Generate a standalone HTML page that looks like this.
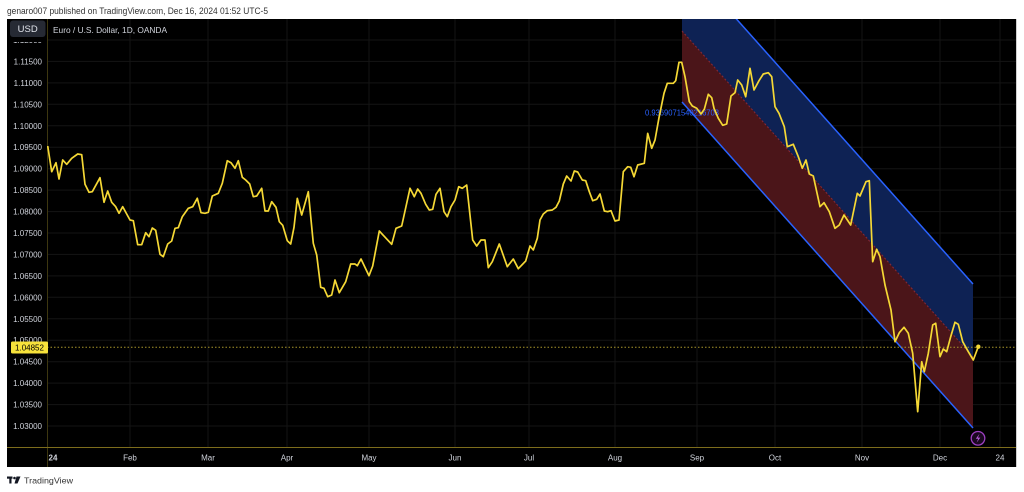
<!DOCTYPE html>
<html>
<head>
<meta charset="utf-8">
<style>
html,body{margin:0;padding:0;background:#fff;width:1024px;height:492px;overflow:hidden;}
svg{display:block;font-family:"Liberation Sans",sans-serif;}
</style>
</head>
<body>
<svg width="1024" height="492" viewBox="0 0 1024 492" xmlns="http://www.w3.org/2000/svg">
  <defs>
    <clipPath id="pane"><rect x="47" y="19" width="969" height="428"/></clipPath>
  </defs>
  <rect x="0" y="0" width="1024" height="492" fill="#ffffff"/>
  <text x="7" y="14" font-size="9" fill="#333" textLength="261" lengthAdjust="spacingAndGlyphs">genaro007 published on TradingView.com, Dec 16, 2024 01:52 UTC-5</text>

  <!-- chart frame -->
  <rect x="7" y="19" width="1009" height="448" fill="#000"/>
  <line x1="1016.5" y1="19" x2="1016.5" y2="467" stroke="#cfcfcf" stroke-width="1"/>

  <!-- grid -->
  <g stroke="#141414" stroke-width="1">
    <line x1="47" x2="1016" y1="426" y2="426"/>
    <line x1="47" x2="1016" y1="404.6" y2="404.6"/>
    <line x1="47" x2="1016" y1="383.1" y2="383.1"/>
    <line x1="47" x2="1016" y1="361.7" y2="361.7"/>
    <line x1="47" x2="1016" y1="340.2" y2="340.2"/>
    <line x1="47" x2="1016" y1="318.8" y2="318.8"/>
    <line x1="47" x2="1016" y1="297.3" y2="297.3"/>
    <line x1="47" x2="1016" y1="275.9" y2="275.9"/>
    <line x1="47" x2="1016" y1="254.4" y2="254.4"/>
    <line x1="47" x2="1016" y1="233" y2="233"/>
    <line x1="47" x2="1016" y1="211.6" y2="211.6"/>
    <line x1="47" x2="1016" y1="190.1" y2="190.1"/>
    <line x1="47" x2="1016" y1="168.7" y2="168.7"/>
    <line x1="47" x2="1016" y1="147.2" y2="147.2"/>
    <line x1="47" x2="1016" y1="125.8" y2="125.8"/>
    <line x1="47" x2="1016" y1="104.3" y2="104.3"/>
    <line x1="47" x2="1016" y1="82.9" y2="82.9"/>
    <line x1="47" x2="1016" y1="61.4" y2="61.4"/>
    <line x1="47" x2="1016" y1="40" y2="40"/>
    <line y1="19" y2="447" x1="130" x2="130"/>
    <line y1="19" y2="447" x1="208" x2="208"/>
    <line y1="19" y2="447" x1="287" x2="287"/>
    <line y1="19" y2="447" x1="369" x2="369"/>
    <line y1="19" y2="447" x1="455" x2="455"/>
    <line y1="19" y2="447" x1="529" x2="529"/>
    <line y1="19" y2="447" x1="615" x2="615"/>
    <line y1="19" y2="447" x1="697" x2="697"/>
    <line y1="19" y2="447" x1="775" x2="775"/>
    <line y1="19" y2="447" x1="862" x2="862"/>
    <line y1="19" y2="447" x1="940" x2="940"/>
    <line y1="19" y2="447" x1="1000" x2="1000"/>
  </g>

  <!-- year separator & pane bottom -->
  <line x1="47.5" y1="19" x2="47.5" y2="467" stroke="#3d3710" stroke-width="1"/>
  <line x1="7" y1="447.5" x2="1016" y2="447.5" stroke="#7d6d1c" stroke-width="1"/>

  <!-- channel -->
  <g clip-path="url(#pane)">
    <polygon points="682,-42 973,284 973,357 682,31" fill="#0e2254"/>
    <polygon points="682,31 973,357 973,428 682,102" fill="#4b1519"/>
    <line x1="682" y1="-42" x2="973" y2="284" stroke="#2962ff" stroke-width="1.5"/>
    <line x1="682" y1="102" x2="973" y2="428" stroke="#2962ff" stroke-width="1.5"/>
    <line x1="682" y1="31" x2="973" y2="357" stroke="#b0303c" stroke-width="1" stroke-dasharray="2,2" opacity="0.7"/>
    <text x="645" y="115.5" font-size="8.5" fill="#2962ff" textLength="74" lengthAdjust="spacingAndGlyphs">0.9369071540216703</text>
  </g>

  <!-- current price line -->
  <line x1="47" y1="347.3" x2="1016" y2="347.3" stroke="#a8962a" stroke-width="1" stroke-dasharray="1.5,2"/>

  <!-- price series -->
  <g clip-path="url(#pane)">
  <polyline fill="none" stroke="#f5d835" stroke-width="1.7" stroke-linejoin="round" points="47.7,146 51.7,171.7 56,162.7 59,179 62.7,160 66.7,164.3 71.7,158.3 77.7,154 81.7,154.7 85,184.3 89,192.3 92.3,191.7 100,177.7 104,202.3 107.7,191 111.7,202.3 115.7,206.7 119,213.3 122.7,206.7 126.7,214 130,220 133.3,220.7 137.7,244.7 141.7,244.7 145.7,232.7 149,236.7 152.3,228 155.7,230.3 160,254.3 163.3,256.7 167.7,244 171.7,241 175,228.3 178.3,227.7 182.3,216.7 188.3,208.3 192.7,206.7 197.3,198.3 201,212.7 205,213.3 208.3,212.3 212.3,196 218.3,193.3 222.3,183.3 227.3,160.7 231,162.7 235,168.3 238.3,160.7 242.3,177.3 245.7,180 249.7,184 253.3,196.7 256.7,196 261.7,188.3 265,211 268.3,211 271.7,201.7 276,207.3 279.3,221.7 282.7,225.3 287.3,240.7 290.7,244 294,227.3 297.3,198.3 301.7,215 308.3,191.7 313.3,243.3 316.7,255 320.7,287.3 324,288.3 327.7,296.7 331.7,295 335,280 339.3,292.7 345.7,281.7 350.7,264 355,264 357.3,265.7 361,259 369,275.7 372.7,266 379.3,231 391.7,244.3 396,228.3 401.7,226 410,188.3 414.3,196.7 417.7,189 421,193.3 425.7,204.3 429.3,210 432.7,209.3 436,194.3 440,188.3 444,211.7 447.3,216.7 451,206.7 455,200 458.7,186.7 462.3,188.3 466.7,185 472.7,240 476.7,246 481,240 485,240 488.3,267.7 492.3,261.7 499.3,244 507.3,266.7 513.3,259 518.3,268.7 525.7,261 530,246 533.3,250 537.3,238.3 540,220 543.3,214 547.3,210.7 552.3,210 556,207.3 559.3,201 563.3,184 566.7,176 571,181 574.3,171 577.7,172 582.3,180 585.7,180.7 589.3,191.7 592.7,200.7 596.7,199.3 600,194 604.3,211 607.7,211.7 611,210.7 615,221 619,220 623.3,171.7 627.7,166.7 630.7,167.3 634,176.7 637.7,165 644.3,163.3 647.7,133.3 651.7,148.3 655,140 659,117.7 664,93.3 667.3,83.3 673.3,83.3 675.7,80.7 679,62.3 681.7,62.3 685,76.7 689.3,101.7 692.3,106 696.7,108.3 701,114 704.3,109.3 708.3,94.3 711.7,97.7 714,108.3 718.3,118.3 722.7,125.3 726.7,124 731,96 735,92.7 737.7,80 741.7,85 745.7,96.7 750,68.3 754,90 759,80.7 763.3,74 768.3,72.7 771.7,76.7 775,106.7 779,113.3 784.3,126.7 787.3,146.7 793.3,144.3 798.3,156.7 802.3,168.3 806,160 809.3,174 813.3,176 820,206.7 824,202.7 829.3,211.7 835,228.3 839.3,225 844,215 850.7,225 857.3,193.3 860,196 866,181.7 869.3,180.7 872.7,261.7 876.7,249.3 880,256.7 885,285 891,310 895,341.7 899.3,332.7 904,327.3 908.3,333.3 912.7,353.3 917.7,411.7 921.7,361.7 924.3,371.7 928.3,353.3 932.7,325 935.7,323.3 940,356.7 943.3,349 946.7,351.7 950.7,336.7 955,322.3 958.3,324.3 962.7,341.7 968.3,351.7 973.3,360 978.3,346.7"/>
  <circle cx="978.3" cy="346.7" r="2.2" fill="#f5d835"/>
  </g>

  <!-- price axis labels -->
  <g font-size="8" fill="#d1d4dc" text-anchor="end">
    <text x="42" y="43">1.12000</text>
    <text x="42" y="64.4">1.11500</text>
    <text x="42" y="85.9">1.11000</text>
    <text x="42" y="107.3">1.10500</text>
    <text x="42" y="128.8">1.10000</text>
    <text x="42" y="150.2">1.09500</text>
    <text x="42" y="171.7">1.09000</text>
    <text x="42" y="193.1">1.08500</text>
    <text x="42" y="214.6">1.08000</text>
    <text x="42" y="236">1.07500</text>
    <text x="42" y="257.4">1.07000</text>
    <text x="42" y="278.9">1.06500</text>
    <text x="42" y="300.3">1.06000</text>
    <text x="42" y="321.8">1.05500</text>
    <text x="42" y="343.2">1.05000</text>
    <text x="42" y="364.7">1.04500</text>
    <text x="42" y="386.1">1.04000</text>
    <text x="42" y="407.6">1.03500</text>
    <text x="42" y="429">1.03000</text>
  </g>

  <!-- current price label -->
  <rect x="11" y="341.5" width="37" height="12" rx="1.5" fill="#f7e23b"/>
  <text x="29.5" y="350.5" font-size="8" fill="#000" text-anchor="middle">1.04852</text>

  <!-- USD box & title -->
  <rect x="7" y="19" width="40" height="23" fill="#000"/>
  <rect x="10" y="20.5" width="35.5" height="16.5" rx="3" fill="#262a34"/>
  <text x="27.7" y="32" font-size="9.5" fill="#e0e3eb" text-anchor="middle">USD</text>
  <text x="53" y="33" font-size="8.5" fill="#d1d4dc" textLength="114" lengthAdjust="spacingAndGlyphs">Euro / U.S. Dollar, 1D, OANDA</text>

  <!-- time axis labels -->
  <g font-size="8" fill="#d1d4dc" text-anchor="middle">
    <text x="53" y="460.5" font-weight="bold">24</text>
    <text x="130" y="460.5">Feb</text>
    <text x="208" y="460.5">Mar</text>
    <text x="287" y="460.5">Apr</text>
    <text x="369" y="460.5">May</text>
    <text x="455" y="460.5">Jun</text>
    <text x="529" y="460.5">Jul</text>
    <text x="615" y="460.5">Aug</text>
    <text x="697" y="460.5">Sep</text>
    <text x="775" y="460.5">Oct</text>
    <text x="862" y="460.5">Nov</text>
    <text x="940" y="460.5">Dec</text>
    <text x="1000" y="460.5">24</text>
  </g>

  <!-- lightning icon -->
  <circle cx="978" cy="438.3" r="6.8" fill="#1a0820" stroke="#9c3fc0" stroke-width="1.3"/>
  <path d="M979.5,433.8 L975.8,438.8 L978.2,438.8 L976.6,442.8 L980.3,437.6 L977.9,437.6 Z" fill="#b45ad8"/>

  <!-- TradingView logo -->
  <g fill="#131722">
    <rect x="7" y="476.5" width="5.5" height="2.2"/>
    <rect x="9.3" y="476.5" width="2.2" height="7"/>
    <circle cx="14.5" cy="478" r="1.3"/>
    <path d="M16.5,476.5 L20.5,476.5 L17.5,483.5 L14.5,483.5 Z"/>
  </g>
  <text x="24" y="483.5" font-size="8.5" fill="#333" textLength="49" lengthAdjust="spacingAndGlyphs">TradingView</text>
</svg>
</body>
</html>
